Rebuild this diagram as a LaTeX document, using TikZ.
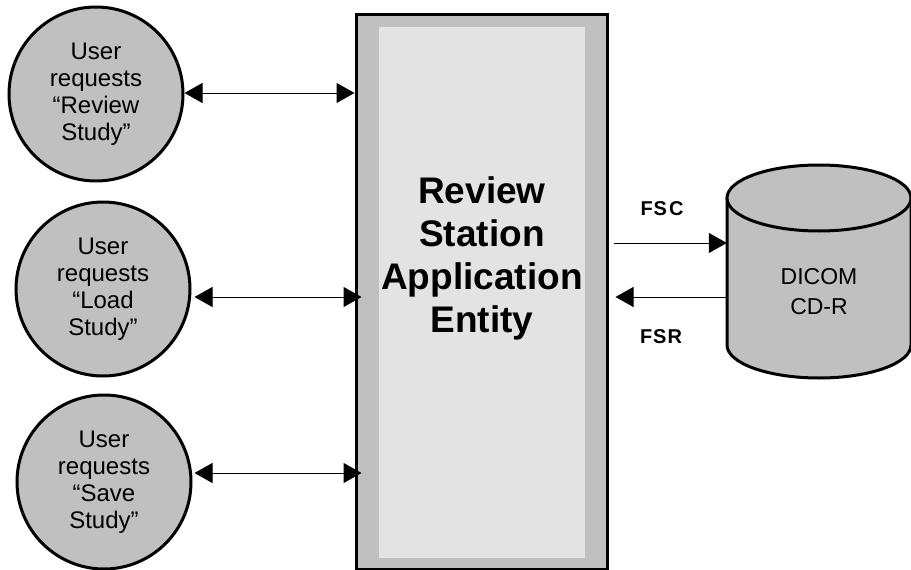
\documentclass[tikz,border=0pt]{standalone}
\usepackage{fontspec}
\setmainfont{Liberation Sans}
\usetikzlibrary{arrows.meta}
\definecolor{fillgray}{HTML}{C0C0C0}
\definecolor{innergray}{HTML}{E3E3E3}
\begin{document}
\begin{tikzpicture}[x=1pt,y=-1pt,
  usercircle/.style={circle,draw=black,line width=3pt,fill=fillgray,minimum size=174pt,inner sep=0pt,align=center,font=\fontsize{24}{27}\selectfont},
  dbl/.style={line width=1pt,{Triangle[length=18pt,width=20pt]}-{Triangle[length=18pt,width=20pt]}},
  arr/.style={line width=1pt,-{Triangle[length=18pt,width=20pt]}},
  flabel/.style={font=\bfseries\fontsize{20}{24}\selectfont}
]
\useasboundingbox (0,0) rectangle (911,570);
\begin{scope}
\clip (0,0) rectangle (911,570);
% central box
\node[draw=black,line width=3pt,fill=fillgray,minimum width=251pt,minimum height=555pt,inner sep=0pt] (box) at (481.5,291.5) {};
\fill[innergray] (379,27) rectangle (585,558);
\node[align=center,font=\bfseries\fontsize{37}{43}\selectfont] (title) at (482,258) {Review\\Station\\Application\\Entity};
% user circles
\node[usercircle] (c1) at (96,94) {User\\requests\\“Review\\Study”};
\node[usercircle] (c2) at (103,289) {User\\requests\\“Load\\Study”};
\node[usercircle] (c3) at (104,482) {User\\requests\\“Save\\Study”};
% cylinder
\fill[fillgray] (727,198) -- (727,345) arc[start angle=180,end angle=360,x radius=92,y radius=-33] -- (911,198) -- cycle;
\draw[line width=3pt] (727,198) -- (727,345) arc[start angle=180,end angle=360,x radius=92,y radius=-33] -- (911,198);
\draw[line width=3pt,fill=fillgray] (819,198) ellipse[x radius=92,y radius=33];
\node[minimum width=184pt,minimum height=213pt,inner sep=0pt] (db) at (819,271.5) {};
\node[align=center,font=\fontsize{23}{30}\selectfont] (dbtext) at (819,292) {DICOM\\CD-R};
% connectors
\coordinate (y1) at (0,93);
\coordinate (y2) at (0,297);
\coordinate (y3) at (0,473);
\coordinate (yfsc) at (0,243);
\coordinate (yfsr) at (0,297);
\draw[dbl] (c1.east |- y1) -- (box.west |- y1);
\draw[dbl] ([xshift=3pt]c2.east |- y2) -- ([xshift=7pt]box.west |- y2);
\draw[dbl] ([xshift=2pt]c3.east |- y3) -- ([xshift=7pt]box.west |- y3);
\draw[arr] ([xshift=5pt]box.east |- yfsc) -- (db.west |- yfsc);
\draw[arr] (db.west |- yfsr) -- ([xshift=7pt]box.east |- yfsr);
\node[flabel] (fsc) at (662,209) {F\kern1ptS\kern2ptC};
\node[flabel] (fsr) at (661,337) {F\kern1ptS\kern1ptR};
\end{scope}
\end{tikzpicture}
\end{document}
